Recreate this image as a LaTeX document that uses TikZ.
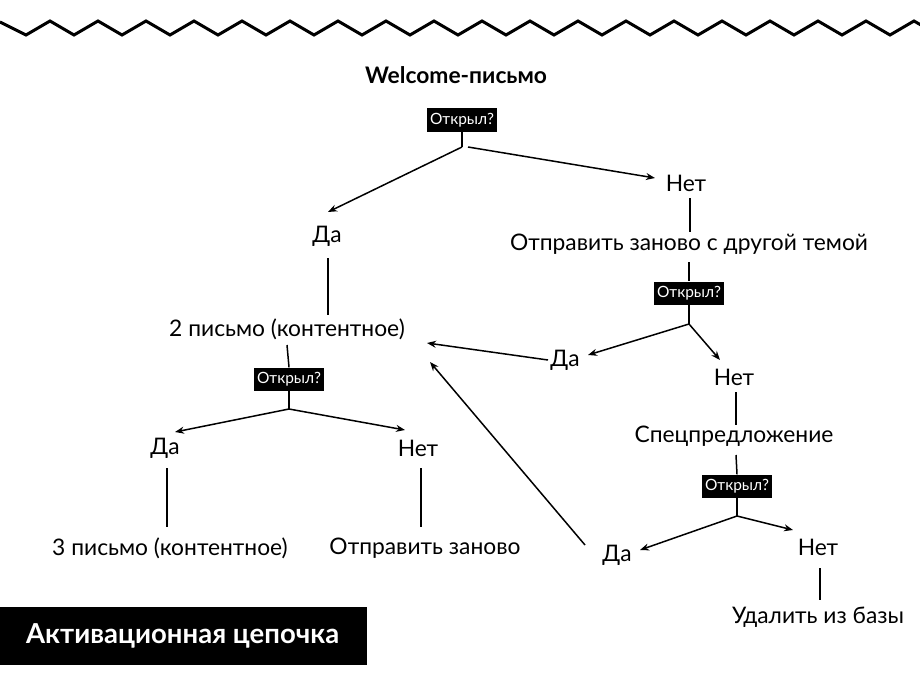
\documentclass[tikz,border=0pt]{standalone}
\usepackage{fontspec}
\setmainfont{Lato}
\usetikzlibrary{arrows.meta}
\begin{document}
\begin{tikzpicture}[x=1pt,y=-1pt,
 t/.style={font=\fontsize{22.8}{24}\selectfont,inner sep=1pt},
 q/.style={fill=black,text=white,font=\fontsize{15.5}{16}\selectfont,inner sep=3pt,minimum height=23pt},
 ln/.style={line width=1.5pt},
 ar/.style={line width=1.5pt,-{Stealth[length=9pt,width=7pt]}}]
\useasboundingbox (0,0) rectangle (920,690);
\draw[line width=3pt] (0,22) \foreach \i in {0,...,19} {-- ({26+48*\i},35) -- ({50+48*\i},21)};
\node[t,font=\bfseries\fontsize{22.8}{24}\selectfont] (w) at (456,75) {Welcome-письмо};
\node[q] (q1) at (462,120) {Открыл?};
\coordinate (j1) at (462,147);
\node[t] (da1) at (327,236) {Да};
\node[t] (net1) at (686,183) {Нет};
\node[t] (p2) at (287,329) {2 письмо (контентное)};
\node[t] (otz) at (689,244) {Отправить заново с другой темой};
\node[q] (q2) at (689,293) {Открыл?};
\coordinate (j2) at (689,324);
\node[t] (da2) at (565,360) {Да};
\node[t] (net2) at (734,377) {Нет};
\node[t] (sp) at (734,436) {Спецпредложение};
\node[q] (q3) at (737,486) {Открыл?};
\coordinate (j3) at (737,516);
\node[t] (da3) at (617,555) {Да};
\node[t] (net3) at (818,547) {Нет};
\node[t] (ud) at (818,617) {Удалить из базы};
\node[q] (q4) at (289,379) {Открыл?};
\coordinate (j4) at (289,409);
\node[t] (da4) at (165,448) {Да};
\node[t] (net4) at (418,448) {Нет};
\node[t] (p3) at (170,548) {3 письмо (контентное)};
\node[t] (oz) at (425,548) {Отправить заново};
\node[fill=black,minimum width=367pt,minimum height=58pt,inner sep=0pt] (lbl) at (183.5,636) {};
\node[anchor=west,text=white,font=\bfseries\fontsize{27.5}{28}\selectfont,inner sep=0pt] (lt) at (26,636) {Активационная цепочка};
% connectors
\draw[ln] (q1.south) -- (j1);
\draw[ar] (j1) -- (328,212);
\draw[ar] ([xshift=6pt]j1) -- (655,178);
\draw[ln] (328,258) -- (328,315);
\draw[ln] (690,198) -- (690,232);
\draw[ln] (689,262) -- (q2.north);
\draw[ln] (q2.south) -- (j2);
\draw[ar] (j2) -- (588,355);
\draw[ar] (j2) -- (720,360);
\draw[ar] (548,360) -- (427,343);
\draw[ln] (736,392) -- (736,425);
\draw[ln] (736,455) -- (q3.north);
\draw[ln] (q3.south) -- (j3);
\draw[ar] (j3) -- (640,550);
\draw[ar] (j3) -- (793,530);
\draw[ar] (585,545) -- (430,362);
\draw[ln] (820,568) -- (820,600);
\draw[ln] (287,345) -- (q4.north);
\draw[ln] (q4.south) -- (j4);
\draw[ar] (j4) -- (175,432);
\draw[ar] (j4) -- (405,430);
\draw[ln] (167,468) -- (167,527);
\draw[ln] (421,468) -- (421,527);
\end{tikzpicture}
\end{document}
